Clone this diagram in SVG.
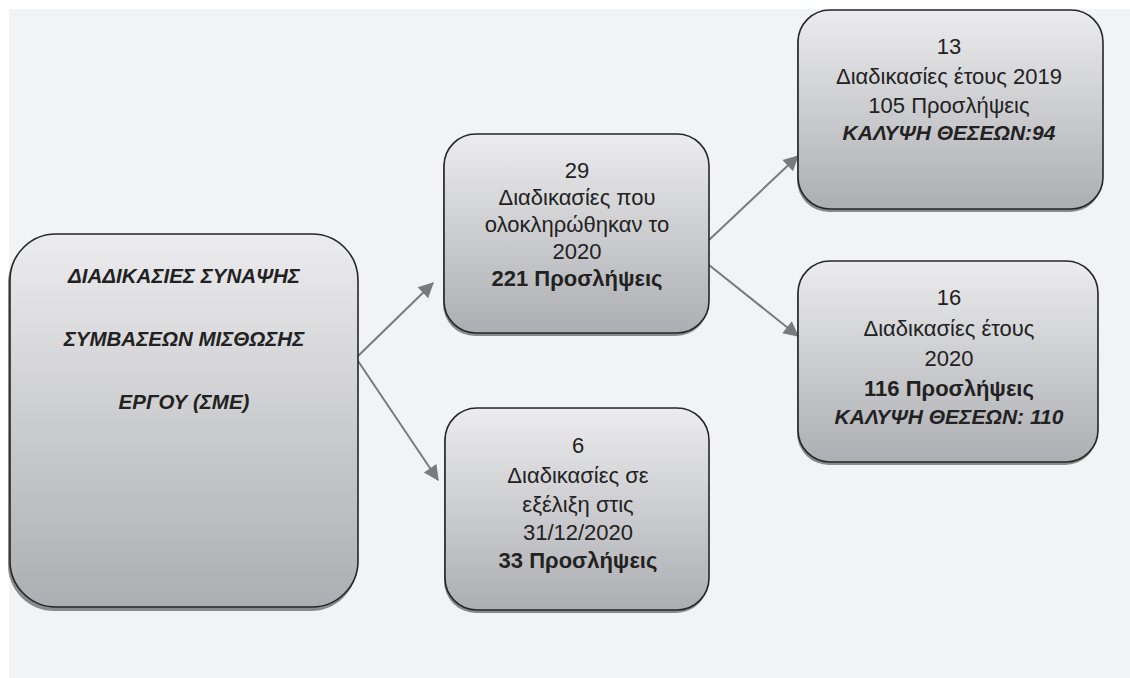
<svg xmlns="http://www.w3.org/2000/svg" width="1130" height="678" viewBox="0 0 1130 678">
<style>
text{font-family:"Liberation Sans",Arial,"DejaVu Sans",sans-serif;fill:#222;text-anchor:middle;font-size:22px}
.b{font-weight:bold;font-size:22px}
.bi{font-weight:bold;font-style:italic;font-size:21px}
.t{font-weight:bold;font-style:italic;font-size:20.5px}
.box{fill:url(#g);stroke:#262626;stroke-width:1.6}
.sh{fill:#8a8a8c}
.c{stroke:#7a7a7c;stroke-width:2;fill:none;marker-end:url(#ah)}
</style>
<defs>
<linearGradient id="g" x1="0" y1="0" x2="0" y2="1">
<stop offset="0" stop-color="#ececee"/>
<stop offset="1" stop-color="#adaeb2"/>
</linearGradient>
<marker id="ah" viewBox="0 0 10 10" refX="9" refY="5" markerWidth="8" markerHeight="8" markerUnits="userSpaceOnUse" orient="auto" overflow="visible">
<path d="M0,0 L10,5 L0,10 Z" fill="#7a7a7c" transform="scale(1.9) translate(-4.5,-2.4)"/>
</marker>
</defs>
<rect width="1130" height="678" fill="#ffffff"/>
<rect x="9" y="9" width="1121" height="669" fill="#f2f3f5"/>
<g id="connectors">
<line class="c" x1="356" y1="358" x2="433" y2="283"/>
<line class="c" x1="356" y1="358" x2="438" y2="480"/>
<line class="c" x1="709" y1="240" x2="798" y2="156"/>
<line class="c" x1="709" y1="265" x2="798" y2="336"/>
</g>
<g id="n-root">
<rect class="sh" x="8" y="237" width="349" height="374" rx="46"/>
<rect class="box" x="10" y="234" width="348" height="373" rx="46"/>
<text class="t" x="184" y="283">ΔΙΑΔΙΚΑΣΙΕΣ ΣΥΝΑΨΗΣ</text>
<text class="t" x="184" y="346">ΣΥΜΒΑΣΕΩΝ ΜΙΣΘΩΣΗΣ</text>
<text class="t" x="184" y="409">ΕΡΓΟΥ (ΣΜΕ)</text>
</g>
<g id="n-completed">
<rect class="sh" x="443" y="137" width="265" height="199" rx="32"/>
<rect class="box" x="444" y="134" width="265" height="199" rx="32"/>
<text x="577" y="178">29</text>
<text x="577" y="205">Διαδικασίες που</text>
<text x="577" y="232">ολοκληρώθηκαν το</text>
<text x="577" y="259">2020</text>
<text class="b" x="577" y="286">221 Προσλήψεις</text>
</g>
<g id="n-ongoing">
<rect class="sh" x="444" y="411" width="264" height="202" rx="32"/>
<rect class="box" x="445" y="408" width="264" height="202" rx="32"/>
<text x="578" y="453">6</text>
<text x="578" y="483">Διαδικασίες σε</text>
<text x="578" y="512">εξέλιξη στις</text>
<text x="578" y="540">31/12/2020</text>
<text class="b" x="578" y="568">33 Προσλήψεις</text>
</g>
<g id="n-2019">
<rect class="sh" x="797" y="13" width="305" height="199" rx="32"/>
<rect class="box" x="798" y="10" width="305" height="199" rx="32"/>
<text x="949" y="54">13</text>
<text x="949" y="84">Διαδικασίες έτους 2019</text>
<text x="949" y="113">105 Προσλήψεις</text>
<text class="bi" x="949" y="140">ΚΑΛΥΨΗ ΘΕΣΕΩΝ:94</text>
</g>
<g id="n-2020">
<rect class="sh" x="797" y="264" width="300" height="201" rx="32"/>
<rect class="box" x="798" y="261" width="300" height="201" rx="32"/>
<text x="949" y="305">16</text>
<text x="949" y="336">Διαδικασίες έτους</text>
<text x="949" y="366">2020</text>
<text class="b" x="949" y="396">116 Προσλήψεις</text>
<text class="bi" x="949" y="424">ΚΑΛΥΨΗ ΘΕΣΕΩΝ: 110</text>
</g>
</svg>
